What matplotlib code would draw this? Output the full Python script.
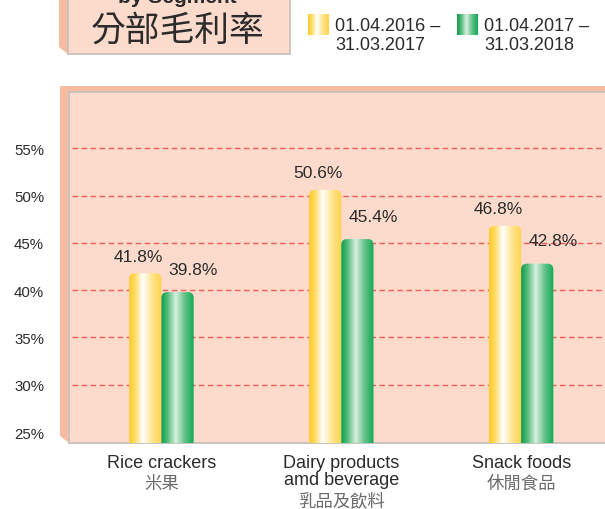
import numpy as np
import matplotlib
matplotlib.use("Agg")
import matplotlib.pyplot as plt
from matplotlib.path import Path
from matplotlib.patches import PathPatch, Polygon, Rectangle
from matplotlib.colors import LinearSegmentedColormap

plt.rcParams['font.family'] = ['Liberation Sans', 'Noto Sans CJK TC', 'DejaVu Sans']

# data
categories_en = ["Rice crackers", "Dairy products\namd beverage", "Snack foods"]
categories_zh = ["米果", "乳品及飲料", "休閒食品"]
fy2017 = [41.8, 50.6, 46.8]
fy2018 = [39.8, 45.4, 42.8]
series_labels = ["01.04.2016 –\n31.03.2017", "01.04.2017 –\n31.03.2018"]
yticks = [25, 30, 35, 40, 45, 50, 55]
gridlevels = [30, 35, 40, 45, 50, 55]

PEACH = "#FDDBCC"
SIDE = "#F7BBA2"
EDGE = "#C9C3C0"
TXT = "#2b2b2b"

yellow_cm = LinearSegmentedColormap.from_list(
    "yel", [(0, "#FFCB25"), (0.2, "#FFDF70"), (0.42, "#FFFFFF"), (0.7, "#FFE590"), (1, "#FFD24A")])
green_cm = LinearSegmentedColormap.from_list(
    "grn", [(0, "#0A9E4B"), (0.2, "#58BC7E"), (0.45, "#D8F0E0"), (0.7, "#6CC48E"), (1, "#0FAA55")])

fig = plt.figure(figsize=(6.05, 5.10), dpi=100)

# background layer in pixel coords for the decorative 3D frame
bg = fig.add_axes([0, 0, 1, 1], zorder=0)
bg.axis("off")

# title box
bg.add_patch(Polygon([(59, -5), (68, -5), (68, 55), (59, 48)], closed=True,
                     facecolor=SIDE, edgecolor="none"))
bg.add_patch(Rectangle((68, -5), 222, 60, facecolor=PEACH, edgecolor=EDGE, lw=1.3))
bg.text(177, -3, "by Segment", ha="center", va="center", fontsize=15,
        fontweight="bold", color=TXT)
bg.text(178, 31, "分部毛利率", ha="center", va="center", fontsize=25,
        color=TXT, family=["Noto Sans CJK TC"])

# chart panel side strips
bg.add_patch(Polygon([(60, 87), (605, 87), (605, 93), (69, 93)], closed=True,
                     facecolor=SIDE, edgecolor="none"))
bg.add_patch(Polygon([(60, 87), (69, 93), (69, 444), (60, 437)], closed=True,
                     facecolor=SIDE, edgecolor="none"))

# legend
grad = np.linspace(0, 1, 64).reshape(1, -1)
for i, (cm, lab) in enumerate(zip([yellow_cm, green_cm], series_labels)):
    x0 = 308 + 149 * i
    bg.imshow(grad, cmap=cm, aspect="auto", extent=[x0, x0 + 21, 36, 15], zorder=2)
    bg.text(x0 + 27, 36, lab, ha="left", va="center", fontsize=13,
            color=TXT, linespacing=1.15)
bg.set_xlim(0, 605)
bg.set_ylim(510, 0)

# main axes
ax = fig.add_axes([69 / 605, 1 - 444 / 510, 1 - 69 / 605 + 0.01, (444 - 93) / 510], zorder=1)
ax.set_facecolor(PEACH)
ax.set_xlim(-0.514, 2.50)
ax.set_ylim(23.84, 60.95)

x = np.arange(len(categories_en))
w = 0.179
bars1 = ax.bar(x - w / 2, fy2017, w, bottom=0, color="none", edgecolor="none")
bars2 = ax.bar(x + w / 2, fy2018, w, bottom=0, color="none", edgecolor="none")

rx, ry = 0.032, 0.62


def rounded_bar(rect, cm):
    x0 = rect.get_x()
    x1 = x0 + rect.get_width()
    y1 = rect.get_height()
    y0 = ax.get_ylim()[0] - 1
    verts = [(x0, y0), (x0, y1 - ry), (x0, y1), (x0 + rx, y1),
             (x1 - rx, y1), (x1, y1), (x1, y1 - ry), (x1, y0), (x0, y0)]
    codes = [Path.MOVETO, Path.LINETO, Path.CURVE3, Path.CURVE3,
             Path.LINETO, Path.CURVE3, Path.CURVE3, Path.LINETO, Path.CLOSEPOLY]
    patch = PathPatch(Path(verts, codes), facecolor="none", edgecolor="none")
    ax.add_patch(patch)
    im = ax.imshow(grad, cmap=cm, aspect="auto", extent=[x0, x1, y0, y1],
                   zorder=3, interpolation="bilinear")
    im.set_clip_path(patch)


for r in bars1:
    rounded_bar(r, yellow_cm)
for r in bars2:
    rounded_bar(r, green_cm)

for b, v in zip(bars1, fy2017):
    ax.annotate(f"{v}%", (b.get_x() + b.get_width() / 2, v), xytext=(-7, 17),
                textcoords="offset pixels", ha="center", va="center",
                fontsize=12.5, color=TXT, zorder=5)
for b, v in zip(bars2, fy2018):
    ax.annotate(f"{v}%", (b.get_x() + b.get_width() / 2, v), xytext=(16, 23),
                textcoords="offset pixels", ha="center", va="center",
                fontsize=12.5, color=TXT, zorder=5)

for g in gridlevels:
    ax.axhline(g, xmin=0.006, color="#EE4444", lw=1.0, ls=(0, (4, 2.5)), zorder=2, alpha=0.85)

ax.set_xlim(-0.514, 2.50)
ax.set_ylim(23.84, 60.95)
ax.set_yticks(yticks)
ax.set_yticklabels([f"{t}%" for t in yticks], fontsize=10.8, color=TXT)
ax.tick_params(axis="y", length=0, pad=18)
ax.set_xticks(x)
ax.set_xticklabels([])
ax.tick_params(axis="x", length=0)
for s in ["left", "top", "bottom"]:
    ax.spines[s].set_color(EDGE)
    ax.spines[s].set_linewidth(1.4)
ax.spines["right"].set_visible(False)

# category labels below the axis
for xi, en, zh in zip(x, categories_en, categories_zh):
    ax.annotate(en, (xi, ax.get_ylim()[0]), xytext=(0, -11), textcoords="offset pixels",
                ha="center", va="top", fontsize=13, color=TXT, linespacing=1.0,
                annotation_clip=False)
    n = en.count("\n") + 1
    ax.annotate(zh, (xi, ax.get_ylim()[0]), xytext=(0, -14 - 17 * n), textcoords="offset pixels",
                ha="center", va="top", fontsize=12.5, color="#6a6a6a",
                family=["Noto Sans CJK TC"], annotation_clip=False)

fig.savefig("out.png", dpi=100)
